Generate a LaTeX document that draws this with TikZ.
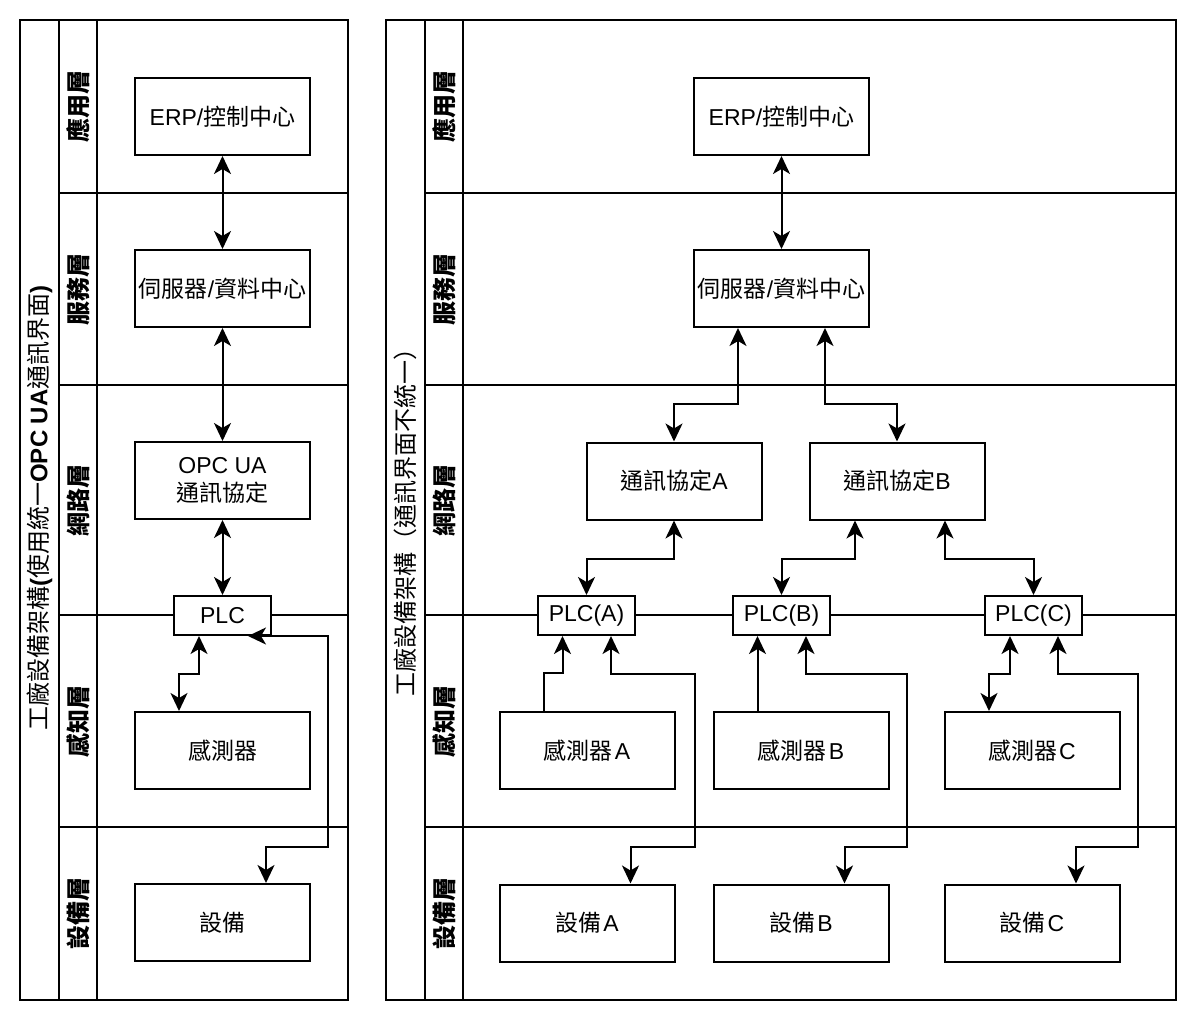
\documentclass[tikz,border=0pt]{standalone}
\usepackage{fontspec}
\setmainfont{Liberation Sans}
\newfontfamily\cjk{Noto Sans CJK TC}
\usetikzlibrary{arrows.meta}
\newcommand{\C}[1]{{\cjk #1}}
\begin{document}
\begin{tikzpicture}[x=1pt,y=-1pt,
  frame/.style={line width=2pt},
  box/.style={draw,line width=2pt,fill=white,minimum width=175pt,minimum height=77pt,inner sep=0pt,font=\fontsize{23}{28}\selectfont,align=center},
  plcbox/.style={box,minimum width=97pt,minimum height=39pt},
  lane/.style={rotate=90,font=\fontsize{24}{28}\selectfont\bfseries\cjk},
  ttl/.style={rotate=90,font=\fontsize{24}{28}\selectfont},
  link/.style={line width=2pt,{Stealth[length=18pt,width=17pt,inset=5pt]}-{Stealth[length=18pt,width=17pt,inset=5pt]}},
  uplink/.style={line width=2pt,-{Stealth[length=18pt,width=17pt,inset=5pt]}}]
\fill[white] (0,0) rectangle (1197,1022);
\useasboundingbox (0,0) rectangle (1197,1022);

% ---------- left panel frame ----------
\draw[frame] (20,20) rectangle (348,1000);
\draw[frame] (59,20) -- (59,1000);
\draw[frame] (97,20) -- (97,1000);
\foreach \yy in {193,385,615,827} \draw[frame] (59,\yy) -- (348,\yy);

% ---------- right panel frame ----------
\draw[frame] (386,20) rectangle (1176,1000);
\draw[frame] (425,20) -- (425,1000);
\draw[frame] (463,20) -- (463,1000);
\foreach \yy in {193,385,615,827} \draw[frame] (425,\yy) -- (1176,\yy);

% ---------- titles ----------
\node[ttl] (t1) at (39.5,508) {\C{工廠設備架構}\textbf{(}\C{使用統一}\textbf{OPC UA}\C{通訊界面}\textbf{)}};
\node[ttl] (t2) at (405.5,516) {\C{工廠設備架構（通訊界面不統一）}};

% ---------- lane labels ----------
\foreach \xx/\nm in {78/a,444/b}{
  \node[lane] (l1\nm) at (\xx,106.5) {應用層};
  \node[lane] (l2\nm) at (\xx,289) {服務層};
  \node[lane] (l3\nm) at (\xx,500) {網路層};
  \node[lane] (l4\nm) at (\xx,721) {感知層};
  \node[lane] (l5\nm) at (\xx,913.5) {設備層};
}

% ---------- left boxes ----------
\node[box] (erp1) at (222.5,116.5) {ERP/\C{控制中心}};
\node[box] (srv1) at (222.5,288.5) {\C{伺服器}/\C{資料中心}};
\node[box] (opc1) at (222.5,480.5) {OPC UA\\\C{通訊協定}};
\node[plcbox] (plc1) at (222.5,615.5) {PLC};
\node[box] (sen1) at (222.5,750.5) {\C{感測器}};
\node[box] (dev1) at (222.5,922.5) {\C{設備}};

% ---------- left connectors ----------
\draw[link] (erp1) -- (srv1);
\draw[link] (srv1) -- (opc1);
\draw[link] (opc1) -- (plc1);
\draw[link] ([xshift=-23.5pt]plc1.south) -- ++(0,38) -| ([xshift=-43.5pt]sen1.north);
\draw[link] ([xshift=25.5pt]plc1.south) -- ++(80,0) -- ++(0,211) -| ([xshift=43.5pt]dev1.north);

% ---------- right boxes ----------
\node[box] (erp2) at (781.5,116.5) {ERP/\C{控制中心}};
\node[box] (srv2) at (781.5,288.5) {\C{伺服器}/\C{資料中心}};
\node[box] (proA) at (674,481) {\C{通訊協定}A};
\node[box] (proB) at (897,481) {\C{通訊協定}B};
\node[plcbox] (plcA) at (586.5,615.5) {PLC(A)};
\node[plcbox] (plcB) at (781.5,615.5) {PLC(B)};
\node[plcbox] (plcC) at (1033.5,615.5) {PLC(C)};
\node[box] (senA) at (587,750.5) {\C{感測器}\hspace{2pt}A};
\node[box] (senB) at (801,750.5) {\C{感測器}\hspace{2pt}B};
\node[box] (senC) at (1032,750.5) {\C{感測器}\hspace{2pt}C};
\node[box] (devA) at (587,923) {\C{設備}\hspace{2pt}A};
\node[box] (devB) at (801,923) {\C{設備}\hspace{2pt}B};
\node[box] (devC) at (1032,923) {\C{設備}\hspace{2pt}C};

% ---------- right connectors ----------
\draw[link] (erp2) -- (srv2);
\draw[link] ([xshift=-43.5pt]srv2.south) -- ++(0,76) -| (proA.north);
\draw[link] ([xshift=43.5pt]srv2.south) -- ++(0,76) -| (proB.north);
\draw[link] (proA.south) -- ++(0,38) -| (plcA.north);
\draw[link] ([xshift=-42pt]proB.south) -- ++(0,38) -| (plcB.north);
\draw[link] ([xshift=48pt]proB.south) -- ++(0,38) -| (plcC.north);

\draw[uplink] ([xshift=-43.5pt]senA.north) -- ++(0,-38) -| ([xshift=-24pt]plcA.south);
\draw[link] ([xshift=24.5pt]plcA.south) -- ++(0,38) -| ++(84,173) -| ([xshift=43.5pt]devA.north);

\draw[uplink] ([xshift=-43.5pt]senB.north) -- ([xshift=-43.5pt]senB.north |- plcB.south);
\draw[link] ([xshift=24.5pt]plcB.south) -- ++(0,38) -| ++(101,173) -| ([xshift=43.5pt]devB.north);

\draw[link] ([xshift=-23.5pt]plcC.south) -- ++(0,38) -| ([xshift=-43pt]senC.north);
\draw[link] ([xshift=24.5pt]plcC.south) -- ++(0,38) -| ++(80,173) -| ([xshift=44pt]devC.north);
\end{tikzpicture}
\end{document}
